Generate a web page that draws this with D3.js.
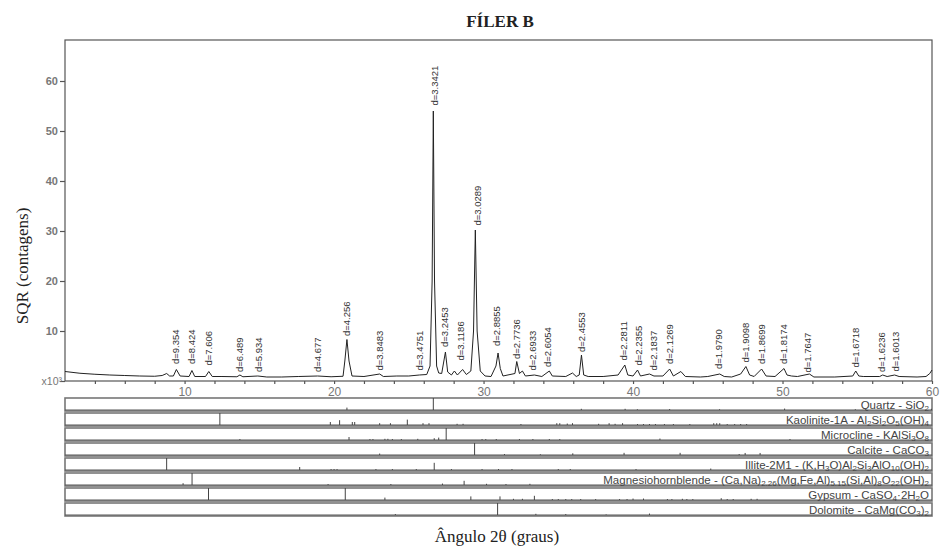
<!DOCTYPE html>
<html>
<head>
<meta charset="utf-8">
<script src="https://cdn.jsdelivr.net/npm/d3@7"></script>
<style>
  body { margin: 0; background: #fff; }
</style>
</head>
<body>
<div class="chart"></div>
<script>
// diffractogram: [2theta, counts x10^3]
var scanPoints = [
  [2, 1.9], [3, 1.55], [4, 1.35], [5, 1.2], [6, 1.1], [7, 1.0], [8, 0.95], [8.5, 1.1], [8.8, 1.5], [9.0, 1.0],
  [9.25, 1.0], [9.45, 2.3], [9.7, 1.0], [10.3, 0.9], [10.49, 2.1], [10.68, 0.9], [11.4, 0.9], [11.62, 1.9], [11.85, 0.9],
  [12.5, 0.9], [13.5, 0.85], [13.7, 1.2], [13.9, 0.85], [14.9, 1.0], [15.5, 0.8], [16.5, 0.8], [17.6, 0.9], [18.9, 1.0],
  [19.8, 0.85], [20.6, 0.95], [20.72, 4], [20.86, 8.3], [21.0, 4], [21.2, 1.0], [22, 0.9], [23.05, 1.4], [23.3, 0.9],
  [24.2, 1.0], [25.0, 1.0], [25.7, 1.2], [26.2, 1.3], [26.42, 3], [26.56, 20], [26.64, 54], [26.72, 20], [26.86, 3],
  [27.0, 1.6], [27.2, 1.5], [27.45, 5.8], [27.6, 1.8], [27.85, 1.2], [28.05, 2.0], [28.25, 1.2], [28.6, 2.3], [28.85, 1.3],
  [29.15, 2], [29.33, 10], [29.45, 30.2], [29.57, 10], [29.78, 2], [30.1, 1.0], [30.5, 0.9], [30.83, 3], [30.97, 5.6],
  [31.12, 2.5], [31.3, 1.0], [32.1, 1.5], [32.22, 3.9], [32.4, 1.5], [32.6, 2.0], [32.8, 1.0], [33.4, 1.2], [33.9, 0.9],
  [34.4, 2.0], [34.6, 1.0], [35.5, 0.9], [35.95, 1.6], [36.2, 0.9], [36.4, 1.2], [36.55, 5.2], [36.7, 1.2], [37.0, 0.9],
  [38.0, 0.9], [39.0, 1.2], [39.45, 3.2], [39.65, 1.2], [40.0, 1.0], [40.3, 2.2], [40.5, 1.0], [41.1, 1.4], [41.4, 1.0],
  [42.0, 1.0], [42.45, 2.4], [42.7, 1.0], [43.2, 1.9], [43.5, 0.9], [44.5, 0.8], [45.0, 0.9], [45.8, 1.4], [46.1, 0.9],
  [46.6, 0.8], [47.2, 1.4], [47.55, 2.9], [47.8, 1.2], [48.1, 0.9], [48.6, 2.4], [48.9, 1.0], [49.5, 0.9], [50.1, 2.5],
  [50.3, 1.2], [50.6, 1.0], [51.0, 0.9], [51.8, 1.4], [52.1, 0.8], [53.5, 0.8], [54.7, 1.0], [54.9, 2.0], [55.1, 1.0],
  [55.4, 0.9], [56.5, 0.9], [56.7, 1.2], [57.0, 0.9], [57.5, 1.2], [57.8, 0.9], [59.0, 0.8], [59.6, 0.9], [59.85, 1.5], [60, 2.2]
];

// peak labels: position, where the label starts (counts x10^3), text
var labelTheta = [9.4, 10.49, 11.6, 13.7, 14.95, 18.9, 20.82, 23.05, 25.7, 26.73, 27.4, 28.5, 29.63, 30.9, 32.2, 33.3, 34.3,
  36.55, 39.4, 40.35, 41.35, 42.46, 45.76, 47.53, 48.6, 50.1, 51.7, 54.9, 56.6, 57.6];
var labelStart = [3.2, 3.2, 2.9, 1.6, 1.6, 1.6, 8.8, 1.9, 1.9, 54.9, 6.6, 3.9, 30.9, 6.8, 4.2, 1.9, 2.6,
  5.6, 3.9, 2.9, 1.9, 3.2, 2.2, 3.5, 3.2, 3.2, 1.5, 2.5, 1.6, 1.7];
var labelText = ["d=9.354", "d=8.424", "d=7.606", "d=6.489", "d=5.934", "d=4.677", "d=4.256", "d=3.8483", "d=3.4751",
  "d=3.3421", "d=3.2453", "d=3.1186", "d=3.0289", "d=2.8855", "d=2.7736", "d=2.6933", "d=2.6054", "d=2.4553",
  "d=2.2811", "d=2.2355", "d=2.1837", "d=2.1269", "d=1.9790", "d=1.9098", "d=1.8699", "d=1.8174", "d=1.7647",
  "d=1.6718", "d=1.6236", "d=1.6013"];

var yTicks = [0, 10, 20, 30, 40, 50, 60];
var xTicks = d3.range(4, 61, 2);

// phase identification rows
var phaseNames = [
  "Quartz - SiO_{2}",
  "Kaolinite-1A - Al_{2}Si_{2}O_{5}(OH)_{4}",
  "Microcline - KAlSi_{3}O_{8}",
  "Calcite - CaCO_{3}",
  "Illite-2M1 - (K,H_{3}O)Al_{2}Si_{3}AlO_{10}(OH)_{2}",
  "Magnesiohornblende - (Ca,Na)_{2.26}(Mg,Fe,Al)_{5.15}(Si,Al)_{8}O_{22}(OH)_{2}",
  "Gypsum - CaSO_{4}·2H_{2}O",
  "Dolomite - CaMg(CO_{3})_{2}"
];
// sticks: [2theta, relative intensity]
var quartzSticks = [[20.86, 20], [26.64, 100], [36.54, 10], [39.47, 10], [40.29, 6], [42.45, 8], [45.79, 6], [50.14, 12],
  [54.87, 6], [59.96, 10]];
var kaoliniteSticks = [[12.36, 100], [19.75, 25], [20.37, 40], [21.22, 25], [21.38, 25], [23.05, 15], [23.77, 15], [24.9, 45],
  [25.95, 15], [26.35, 15], [28.23, 10], [28.63, 10], [32.5, 8], [34.9, 15], [35.1, 15], [35.6, 12], [35.95, 15], [37.7, 10],
  [38.4, 15], [38.8, 10], [39.3, 15], [40.3, 8], [40.7, 8], [41.1, 8], [41.5, 8], [42.1, 8], [42.7, 8], [43.8, 8], [45.4, 15],
  [45.6, 15], [45.8, 15], [46.3, 8], [46.8, 8], [47.2, 8], [47.6, 8]];
var microclineSticks = [[13.7, 8], [21.0, 25], [22.4, 8], [22.6, 8], [23.4, 10], [23.6, 10], [23.9, 8], [24.5, 8], [25.6, 10],
  [26.7, 15], [27.0, 20], [27.5, 100], [29.9, 8], [30.15, 8], [30.85, 8], [32.4, 8], [33.3, 8], [34.4, 8], [35.1, 8],
  [41.8, 12], [50.5, 8]];
var calciteSticks = [[23.05, 12], [29.4, 100], [31.4, 8], [33.8, 6], [35.97, 14], [39.4, 18], [43.15, 18], [47.1, 8], [47.5, 17],
  [48.5, 17]];
var illiteSticks = [[8.8, 100], [17.7, 25], [19.8, 8], [20.0, 8], [20.2, 8], [22.8, 8], [23.9, 8], [25.5, 8], [26.7, 60],
  [27.85, 8], [29.9, 8], [31.0, 8], [31.9, 8], [35.0, 8], [35.8, 8], [40.2, 8], [45.2, 12]];
var hornblendeSticks = [[9.9, 15], [10.5, 100], [19.6, 8], [23.8, 8], [27.25, 12], [28.7, 35], [30.2, 10], [31.5, 8], [33.1, 10]];
var gypsumSticks = [[11.6, 100], [20.75, 100], [23.4, 20], [29.15, 30], [31.1, 30], [32.0, 10], [32.6, 10], [33.4, 35],
  [34.6, 8], [35.0, 8], [35.5, 8], [35.9, 8], [36.5, 8], [37.5, 8], [39.1, 8], [39.6, 8], [40.0, 12], [40.7, 12], [42.3, 8],
  [42.6, 8], [43.3, 10], [43.6, 8], [44.0, 8], [45.9, 15], [46.3, 8], [46.7, 8], [47.9, 10], [48.3, 10]];
var dolomiteSticks = [[24.1, 8], [30.94, 100], [33.5, 10], [35.5, 8], [38.2, 5], [41.1, 12]];
var phaseSticks = [quartzSticks, kaoliniteSticks, microclineSticks, calciteSticks, illiteSticks, hornblendeSticks,
  gypsumSticks, dolomiteSticks];

var margin = { top: 40, left: 65, right: 8 },
    width = 940, height = 547,
    plotBottom = 381,
    rowTop = 398, rowStep = 15, rowHeight = 13;

var svg = d3.select(".chart").append("svg")
    .attr("width", width)
    .attr("height", height)
    .style("font-family", "Arial, 'Liberation Sans', sans-serif");

var x = d3.scaleLinear().domain([2, 60]).range([margin.left, width - margin.right]);
var y = d3.scaleLinear().domain([0, 68.2]).range([plotBottom, margin.top]);

// title
svg.append("text")
    .attr("x", 500).attr("y", 27)
    .attr("text-anchor", "middle")
    .style("font-family", "'Liberation Serif', 'Times New Roman', serif")
    .style("font-weight", "bold")
    .style("font-size", "17px")
    .attr("fill", "#222")
    .text("FÍLER B");

// frame
svg.append("rect")
    .attr("x", x(2)).attr("y", margin.top)
    .attr("width", x(60) - x(2)).attr("height", plotBottom - margin.top)
    .attr("fill", "none").attr("stroke", "#555").attr("stroke-width", 1.2);

// y axis
var yAxis = svg.append("g")
    .attr("transform", "translate(" + x(2) + ",0)")
    .call(d3.axisLeft(y).tickValues(yTicks).tickSize(5).tickPadding(2)
        .tickFormat(function (d) { return d === 0 ? "x10³" : d; }));
yAxis.select(".domain").remove();
yAxis.selectAll("line").attr("stroke", "#555").attr("stroke-width", 1.2);
yAxis.selectAll("text").attr("fill", "#777").style("font-size", "11px").style("font-weight", "bold")
    .style("font-family", "Arial, 'Liberation Sans', sans-serif");
yAxis.selectAll(".tick").filter(function (d) { return d === 0; }).select("text")
    .style("font-weight", "normal").style("font-size", "10.5px").attr("x", -3);

// x axis, labels only every 10
var xAxis = svg.append("g")
    .attr("transform", "translate(0," + plotBottom + ")")
    .call(d3.axisBottom(x).tickValues(xTicks).tickSize(3).tickPadding(3)
        .tickFormat(function (d) { return d % 10 === 0 ? d : ""; }));
xAxis.select(".domain").remove();
xAxis.selectAll("line").attr("stroke", "#555").attr("stroke-width", 1.2);
xAxis.selectAll(".tick").filter(function (d) { return d % 10 !== 0; }).select("text").remove();
xAxis.selectAll("text").attr("fill", "#777").style("font-size", "12px")
    .style("font-family", "Arial, 'Liberation Sans', sans-serif");

// the scan
var line = d3.line()
    .x(function (d) { return x(d[0]); })
    .y(function (d) { return y(d[1]); });
svg.append("path")
    .datum(scanPoints)
    .attr("d", line)
    .attr("fill", "none")
    .attr("stroke", "#222")
    .attr("stroke-width", 1)
    .attr("stroke-linejoin", "round");

// peak labels
svg.append("g").selectAll("text")
    .data(labelText)
    .enter().append("text")
    .attr("transform", function (d, i) {
        return "translate(" + x(labelTheta[i]) + "," + (y(labelStart[i]) - 1) + ") rotate(-90)";
    })
    .attr("dy", "0.35em")
    .attr("fill", "#333")
    .style("font-size", "9.5px")
    .text(function (d) { return d; });

// y label
svg.append("text")
    .attr("transform", "translate(22,266) rotate(-90)")
    .attr("text-anchor", "middle")
    .attr("dy", "0.35em")
    .style("font-family", "'Liberation Serif', 'Times New Roman', serif")
    .style("font-size", "17px")
    .attr("fill", "#222")
    .text("SQR (contagens)");

// phase rows
var stickH = d3.scaleLinear().domain([0, 100]).range([0, rowHeight - 1]);

phaseNames.forEach(function (name, i) {
    var top = rowTop + i * rowStep;
    var g = svg.append("g");
    g.append("rect")
        .attr("x", x(2)).attr("y", top)
        .attr("width", x(60) - x(2)).attr("height", rowHeight)
        .attr("fill", "#fff").attr("stroke", "#777").attr("stroke-width", 1.6);
    g.append("line")
        .attr("x1", x(2)).attr("x2", x(60))
        .attr("y1", top + rowHeight - 1).attr("y2", top + rowHeight - 1)
        .attr("stroke", "#555").attr("stroke-width", 1);

    g.selectAll(".stick")
        .data(phaseSticks[i])
        .enter().append("line")
        .attr("x1", function (d) { return x(d[0]); })
        .attr("x2", function (d) { return x(d[0]); })
        .attr("y1", top + rowHeight - 1)
        .attr("y2", function (d) { return top + rowHeight - 1 - stickH(d[1]); })
        .attr("stroke", "#444")
        .attr("stroke-width", 1);

    // label with subscripts (shift down for a subscript, back up for the next piece)
    var t = g.append("text")
        .attr("x", x(60) - 3).attr("y", top + rowHeight - 2)
        .attr("text-anchor", "end")
        .attr("fill", "#444")
        .style("font-size", "11.5px");
    var parts = name.split(/_\{([^}]*)\}/);
    var shifted = false;
    parts.forEach(function (p, k) {
        if (p === "") return;
        if (k % 2 === 1) {
            t.append("tspan").attr("dy", shifted ? 0 : 2).style("font-size", "8px").text(p);
            shifted = true;
        } else {
            t.append("tspan").attr("dy", shifted ? -2 : 0).text(p);
            shifted = false;
        }
    });
});

// x label
svg.append("text")
    .attr("x", 497).attr("y", 542)
    .attr("text-anchor", "middle")
    .style("font-family", "'Liberation Serif', 'Times New Roman', serif")
    .style("font-size", "17px")
    .attr("fill", "#222")
    .text("Ângulo 2θ (graus)");
</script>
</body>
</html>
